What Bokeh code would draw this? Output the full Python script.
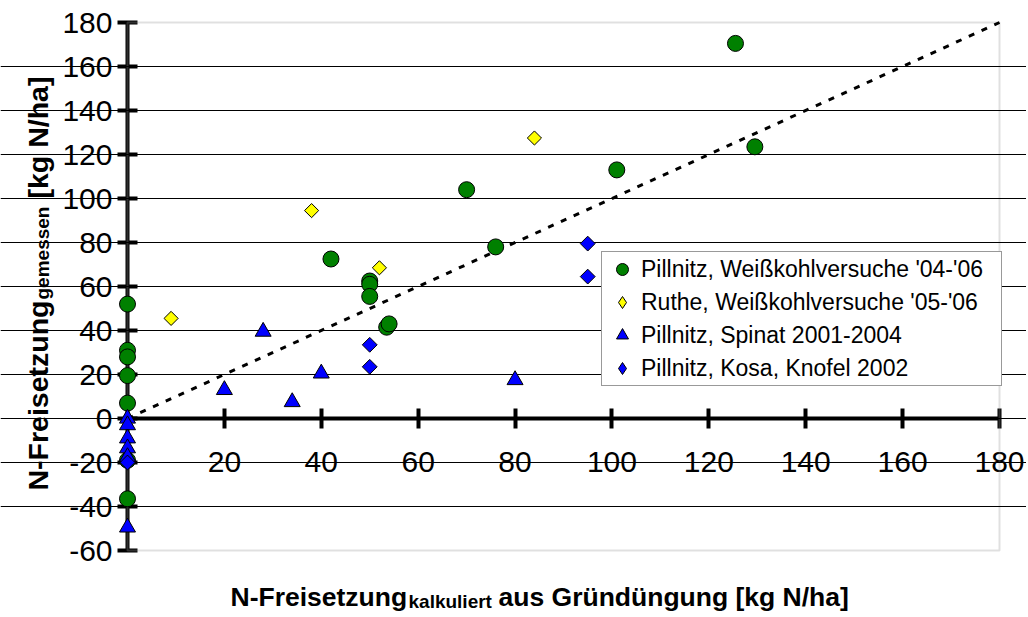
import math
from bokeh.plotting import figure
from bokeh.models import (Range1d, LinearAxis, FixedTicker, Grid, BoxAnnotation,
                          Label, Legend, LegendItem)
from bokeh.embed import file_html
from bokeh.resources import INLINE

# ---------------- data ----------------
pill_kohl_x = [0, 0, 0, 0, 0, 0, 0, 42, 50, 50, 50, 53.5, 54, 70, 76, 101, 125.5, 129.5]
pill_kohl_y = [52, 31, 28, 19.5, 7, -19, -36.5, 72.5, 62.5, 61, 55.5, 41.5, 43, 104, 78, 113, 170.5, 123.5]

ruthe_x = [9, 38, 52, 84]
ruthe_y = [45.5, 94.5, 68.5, 127.5]

spinat_x = [0, 0, 0, 0, 0, 0, 20, 28, 34, 40, 80]
spinat_y = [0, -3, -9, -13.5, -17.5, -49.5, 13, 39.5, 7.5, 20.5, 17.5]

kosa_x = [0, 50, 50, 95, 95]
kosa_y = [-20, 33.5, 23.5, 79.5, 64.5]

ref_x = [0, 180]
ref_y = [0, 180]

series_labels = ["Pillnitz, Weißkohlversuche '04-'06",
                 "Ruthe, Weißkohlversuche '05-'06",
                 "Pillnitz, Spinat 2001-2004",
                 "Pillnitz, Kosa, Knofel 2002"]

y_ticks = [-60, -40, -20, 0, 20, 40, 60, 80, 100, 120, 140, 160, 180]
x_ticks = [20, 40, 60, 80, 100, 120, 140, 160, 180]
grid_ticks = [-40, -20, 0, 20, 40, 60, 80, 100, 120, 140, 160]

# ---------------- layout ----------------
W, H = 1026, 615
X0_PX, X180_PX = 127, 999
Y180_PX, YM60_PX = 22, 550
xs = (X180_PX - X0_PX) / 180.0
ys = (YM60_PX - Y180_PX) / 240.0
x_range = Range1d(-X0_PX / xs, 180 + (W - X180_PX) / xs)
y_range = Range1d(-60 - (H - YM60_PX) / ys, 180 + Y180_PX / ys)

FONT = "Liberation Sans"

p = figure(width=W, height=H, x_range=x_range, y_range=y_range,
           x_axis_type=None, y_axis_type=None,
           output_backend="svg", toolbar_location=None, min_border=0)
p.outline_line_color = None
p.background_fill_color = "white"
p.border_fill_color = "white"

border = BoxAnnotation(left=0, right=180, bottom=-60, top=180, fill_alpha=0,
                       line_color="#999999", line_width=2, level="underlay")
p.add_layout(border)

grid = Grid(dimension=1, ticker=FixedTicker(ticks=grid_ticks), bounds=(0, 180),
            grid_line_color="black", grid_line_width=1)
p.add_layout(grid)

axis_style = dict(axis_line_width=4, axis_line_color="black",
                  major_tick_line_width=4, major_tick_line_color="black",
                  major_tick_in=10, major_tick_out=10,
                  minor_tick_line_color=None,
                  major_label_text_font=FONT, major_label_text_font_size="30px",
                  major_label_text_color="black", level="underlay")

yaxis = LinearAxis(fixed_location=0, ticker=FixedTicker(ticks=y_ticks), bounds=(-60, 180),
                   major_label_standoff=5,
                   major_label_overrides={t: str(t) for t in y_ticks}, **axis_style)
p.add_layout(yaxis, "left")

xaxis = LinearAxis(fixed_location=0, ticker=FixedTicker(ticks=x_ticks), bounds=(0, 180),
                   major_label_standoff=23,
                   major_label_overrides={t: str(t) for t in x_ticks}, **axis_style)
p.add_layout(xaxis, "below")

# 1:1 line
p.line(ref_x, ref_y, line_color="black", line_width=3, line_dash="6 8")

mk = dict(line_color="black", line_width=1)
r1 = p.scatter(pill_kohl_x, pill_kohl_y, marker="circle", size=16, fill_color="#008000", **mk)
# diamond-shaped stand-ins for the legend, hidden underneath the rotated squares
l2 = p.scatter(ruthe_x, ruthe_y, marker="diamond", size=12, fill_color="#ffff00", **mk)
r2 = p.scatter(ruthe_x, ruthe_y, marker="square", angle=math.pi / 4, size=10,
               fill_color="#ffff00", **mk)
r3 = p.scatter(spinat_x, spinat_y, marker="triangle", size=16, fill_color="#0000ff", **mk)
l4 = p.scatter(kosa_x, kosa_y, marker="diamond", size=12, fill_color="#0000ff", **mk)
r4 = p.scatter(kosa_x, kosa_y, marker="square", angle=math.pi / 4, size=10.5,
               fill_color="#0000ff", **mk)

legend = Legend(items=[LegendItem(label=series_labels[0], renderers=[r1]),
                       LegendItem(label=series_labels[1], renderers=[l2]),
                       LegendItem(label=series_labels[2], renderers=[r3]),
                       LegendItem(label=series_labels[3], renderers=[l4])],
                location=(601, H - 386), margin=0, padding=2, spacing=3,
                glyph_width=36, glyph_height=30, label_height=30,
                label_standoff=1, label_width=358,
                label_text_font=FONT, label_text_font_size="23px",
                label_text_color="black",
                border_line_color="#333333", border_line_width=1,
                background_fill_color="white", background_fill_alpha=1)
p.add_layout(legend)

# axis titles with subscripts
def lab(x, y, text, size, angle=0.0):
    p.add_layout(Label(x=x, y=y, x_units="screen", y_units="screen", text=text,
                       angle=angle, text_font=FONT, text_font_style="bold",
                       text_font_size=size, text_color="black",
                       text_align="left", text_baseline="alphabetic"))

# x title: N-Freisetzung_kalkuliert aus Gründüngung [kg N/ha]
lab(230, H - 596, "N-Freisetzung", "26.5px")
lab(408, H - 601, "kalkuliert", "19px")
lab(498, H - 596, "aus Gründüngung [kg N/ha]", "26.5px")

# y title (rotated): N-Freisetzung_gemessen [kg N/ha]
lab(37, H - 490, "N-Freisetzung", "28.5px", math.pi / 2)
lab(42, H - 299, "gemessen", "19px", math.pi / 2)
lab(37, H - 198, "[kg N/ha]", "28.5px", math.pi / 2)

open("out.html", "w").write(file_html(p, INLINE))
